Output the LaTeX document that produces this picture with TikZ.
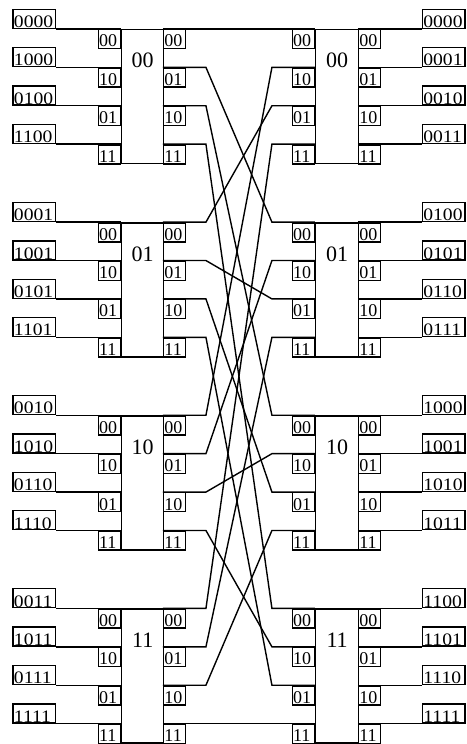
\documentclass[tikz,border=0pt]{standalone}
\usepackage{fontspec}
\setmainfont{Liberation Serif}
\newfontfamily\widefont[FakeStretch=1.12]{Liberation Serif}
\begin{document}
\begin{tikzpicture}[x=1pt,y=-1pt,line width=1.4pt,
  lblbox/.style={draw,rectangle,inner ysep=0pt,inner xsep=0.8pt,text width=41pt,align=left,
    text height=18.3pt,text depth=0.7pt,font=\widefont\fontsize{17.5}{17.5}\selectfont},
  portbox/.style={draw,rectangle,inner ysep=0pt,inner xsep=0.8pt,text width=20.4pt,align=left,
    text height=17.3pt,text depth=1.7pt,font=\fontsize{18}{18}\selectfont},
  blkbox/.style={draw,rectangle,inner sep=0pt,minimum height=134pt,anchor=north west},
  blktxt/.style={anchor=base,inner sep=0pt,font=\fontsize{22}{22}\selectfont},
  wire/.style={line join=miter}]
\useasboundingbox (0,0) rectangle (467,744.2);
\foreach \k/\kb in {0/00,1/01,2/10,3/11}{
  \pgfmathsetmacro\T{29+193.2*\k}
  \node[blkbox,minimum width=42pt] (LB\k) at (121,\T) {};
  \node[blkbox,minimum width=43pt] (RB\k) at (315,\T) {};
  \node[blktxt] (LT\k) at ([yshift=-39pt]LB\k.north) {\kb};
  \node[blktxt] (RT\k) at ([yshift=-39pt]RB\k.north) {\kb};
  \foreach \r/\lp/\rp in {0/00/00,1/10/01,2/01/10,3/11/11}{
    \pgfmathsetmacro\Y{\T+38.4*\r}
    \node[portbox,anchor=north east] (LBi\k\r) at (121,\Y) {\lp};
    \node[portbox,anchor=north west] (LBo\k\r) at (163,\Y) {\rp};
    \node[portbox,anchor=north east] (RBi\k\r) at (315,\Y) {\lp};
    \node[portbox,anchor=north west] (RBo\k\r) at (358,\Y) {\rp};
    \node[lblbox,anchor=south west] (IN\k\r) at (12.5,\Y) {\lp\kb};
    \node[lblbox,anchor=south west] (OUT\k\r) at (422,\Y) {\kb\rp};
    \draw[wire] (IN\k\r.south east) -- (LBi\k\r.north east);
    \draw[wire] (RBo\k\r.north west) -- (OUT\k\r.south west);
  }
}
% butterfly connections: left block a, port row p -> right block p, row r(a)
\foreach \a/\ra in {0/0,1/2,2/1,3/3}{
  \foreach \p in {0,1,2,3}{
    \draw[wire] (LBo\a\p.north west) -- ([xshift=43pt]LBo\a\p.north west)
      -- ([xshift=-43pt]RBi\p\ra.north east) -- (RBi\p\ra.north east);
  }
}
\end{tikzpicture}
\end{document}
